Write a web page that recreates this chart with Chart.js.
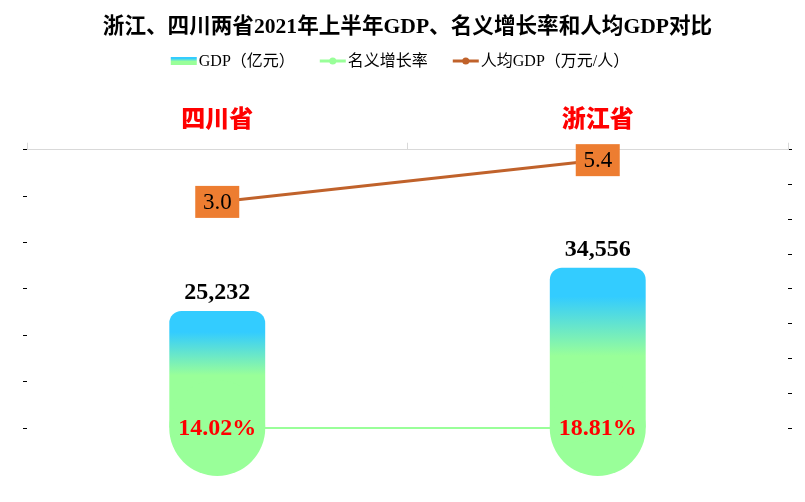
<!DOCTYPE html>
<html>
<head>
<meta charset="utf-8">
<script src="https://cdn.jsdelivr.net/npm/chart.js@4.4.0/dist/chart.umd.min.js"></script>
<style>
    body { margin: 0; background: #fff; }
    #wrap { width: 805px; height: 502px; }
</style>
</head>
<body>
<div id="wrap"><canvas id="grafica" width="805" height="502"></canvas></div>
<script>
const provincias = ['四川省', '浙江省'];
const gdp = [25232, 34556];            // 亿元
const crecimiento = [0.1402, 0.1881];  // 名义增长率
const gdpPerCapita = [3.0, 5.4];       // 万元/人
const nombresSeries = ['GDP（亿元）', '名义增长率', '人均GDP（万元/人）'];
const titulo = '浙江、四川两省2021年上半年GDP、名义增长率和人均GDP对比';

const serif = '"Liberation Serif", "Noto Sans CJK SC", serif';
const azul = '#33CCFF';
const verde = '#99FF99';
const marron = '#C0622B';
const naranja = '#ED7D31';

function pintarGradiente(ctx, top, bottom) {
    const g = ctx.createLinearGradient(0, top, 0, bottom);
    g.addColorStop(0, azul);
    g.addColorStop(0.18, azul);
    g.addColorStop(0.55, verde);
    g.addColorStop(1, verde);
    return g;
}

function gradienteBarra(c) {
    const chart = c.chart;
    if (c.type !== 'data' || !chart.chartArea || !chart.scales.y) return verde;
    const y = chart.scales.y;
    return pintarGradiente(chart.ctx, y.getPixelForValue(c.parsed.y), y.getPixelForValue(0));
}

// etiquetas de datos (no hay plugin datalabels)
const etiquetas = {
    id: 'etiquetas',
    afterDatasetsDraw(chart) {
        const ctx = chart.ctx;
        const barras = chart.getDatasetMeta(0).data;
        const puntosCrec = chart.getDatasetMeta(1).data;
        const puntosPc = chart.getDatasetMeta(2).data;
        ctx.save();
        ctx.textAlign = 'center';
        ctx.textBaseline = 'middle';
        ctx.font = 'bold 24px ' + serif;
        barras.forEach((b, i) => {
            ctx.fillStyle = '#000';
            ctx.fillText(gdp[i].toLocaleString('en-US'), b.x, b.y - 18);
        });
        puntosCrec.forEach((p, i) => {
            ctx.fillStyle = '#FF0000';
            ctx.fillText((crecimiento[i] * 100).toFixed(2) + '%', p.x, p.y + 1);
        });
        ctx.font = '23px ' + serif;
        puntosPc.forEach((p, i) => {
            ctx.fillStyle = naranja;
            ctx.fillRect(p.x - 22, p.y - 16, 44, 32);
            ctx.fillStyle = '#000';
            ctx.fillText(gdpPerCapita[i].toFixed(1), p.x, p.y + 1);
        });
        ctx.restore();
    }
};

// leyenda dibujada a mano para poder meter el degradado y los marcadores
const leyenda = {
    id: 'leyenda',
    afterDraw(chart) {
        const ctx = chart.ctx;
        const y = 61;
        const simbolo = 26, hueco = 2, separacion = 25;
        ctx.save();
        ctx.font = '16px ' + serif;
        const anchos = nombresSeries.map(t => ctx.measureText(t).width);
        let total = 0;
        anchos.forEach((w, i) => { total += simbolo + hueco + w + (i > 0 ? separacion : 0); });
        let x = 400 - total / 2;
        nombresSeries.forEach((texto, i) => {
            if (i === 0) {
                ctx.fillStyle = pintarGradiente(ctx, y - 4, y + 4);
                ctx.fillRect(x, y - 4, simbolo, 8);
            } else {
                const color = i === 1 ? verde : marron;
                ctx.strokeStyle = color;
                ctx.lineWidth = 3;
                ctx.beginPath();
                ctx.moveTo(x, y);
                ctx.lineTo(x + simbolo, y);
                ctx.stroke();
                ctx.fillStyle = color;
                ctx.beginPath();
                ctx.arc(x + simbolo / 2, y, 3.5, 0, Math.PI * 2);
                ctx.fill();
            }
            ctx.fillStyle = '#000';
            ctx.textBaseline = 'middle';
            ctx.fillText(texto, x + simbolo + hueco, y + 1);
            x += simbolo + hueco + anchos[i] + separacion;
        });
        ctx.restore();
    }
};

function main() {
    const ctx = document.getElementById('grafica').getContext('2d');

    const config = {
        type: 'bar',
        data: {
            labels: provincias,
            datasets: [{
                label: nombresSeries[0],
                data: gdp,
                yAxisID: 'y',
                backgroundColor: gradienteBarra,
                borderRadius: { topLeft: 12, topRight: 12, bottomLeft: 0, bottomRight: 0 },
                categoryPercentage: 1,
                barPercentage: 0.252,
                order: 3
            }, {
                type: 'line',
                label: nombresSeries[1],
                data: crecimiento,
                yAxisID: 'y',
                borderColor: verde,
                borderWidth: 2,
                pointRadius: 48,
                pointBackgroundColor: verde,
                pointBorderWidth: 0,
                clip: false,
                order: 2
            }, {
                type: 'line',
                label: nombresSeries[2],
                data: gdpPerCapita,
                yAxisID: 'y1',
                borderColor: marron,
                borderWidth: 3,
                pointRadius: 0,
                clip: false,
                order: 1
            }]
        },
        options: {
            responsive: false,
            animation: false,
            layout: { autoPadding: false, padding: { left: 23, right: 13, top: 0, bottom: 74 } },
            plugins: {
                legend: { display: false },
                tooltip: { enabled: false },
                title: {
                    display: true,
                    text: titulo,
                    color: '#000',
                    font: { family: serif, size: 21.6, weight: 'bold' },
                    padding: { top: 14, bottom: 54 }
                }
            },
            scales: {
                x: {
                    position: 'top',
                    grid: { offset: true, drawOnChartArea: false, tickLength: 7, color: '#D9D9D9' },
                    border: { display: true, color: '#D9D9D9' },
                    ticks: {
                        color: '#FF0000',
                        padding: 10,
                        font: { family: '"Noto Sans CJK SC", sans-serif', size: 24, weight: 900 }
                    }
                },
                y: {
                    position: 'left',
                    min: 0,
                    max: 60000,
                    ticks: { display: false, stepSize: 10000 },
                    grid: { drawOnChartArea: false, tickLength: 4, color: '#000' },
                    border: { display: false }
                },
                y1: {
                    position: 'right',
                    min: -10,
                    max: 6,
                    ticks: { display: false, stepSize: 2 },
                    grid: { drawOnChartArea: false, tickLength: 4, color: '#000' },
                    border: { display: false }
                }
            }
        },
        plugins: [etiquetas, leyenda]
    };

    window.miGrafica = new Chart(ctx, config);
}

document.addEventListener('DOMContentLoaded', function() {
    main();
});
</script>
</body>
</html>
